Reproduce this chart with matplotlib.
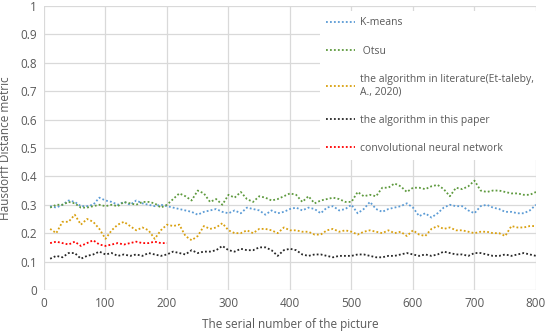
import numpy as np
import matplotlib.pyplot as plt

plt.rcParams['font.family'] = ['Open Sans', 'DejaVu Sans']

# serial number of picture (every 10th sample)
x = np.arange(10, 801, 10)
x_cnn = np.arange(10, 201, 10)

kmeans = [0.295, 0.29, 0.30, 0.315, 0.31, 0.295, 0.295, 0.30, 0.325, 0.315,
          0.31, 0.30, 0.31, 0.30, 0.315, 0.305, 0.30, 0.295, 0.30, 0.295,
          0.29, 0.285, 0.28, 0.275, 0.265, 0.275, 0.28, 0.285, 0.275, 0.27,
          0.28, 0.27, 0.29, 0.285, 0.28, 0.265, 0.28, 0.27, 0.275, 0.285,
          0.29, 0.28, 0.29, 0.285, 0.27, 0.29, 0.295, 0.28, 0.285, 0.30,
          0.27, 0.285, 0.31, 0.285, 0.275, 0.285, 0.29, 0.295, 0.305, 0.29,
          0.26, 0.27, 0.255, 0.27, 0.29, 0.30, 0.295, 0.295, 0.28, 0.27,
          0.295, 0.30, 0.29, 0.285, 0.275, 0.275, 0.27, 0.27, 0.28, 0.30]

otsu = [0.29, 0.30, 0.30, 0.31, 0.305, 0.29, 0.29, 0.295, 0.30, 0.295,
        0.30, 0.295, 0.31, 0.305, 0.30, 0.31, 0.31, 0.305, 0.29, 0.30,
        0.32, 0.34, 0.33, 0.315, 0.35, 0.34, 0.31, 0.32, 0.30, 0.335,
        0.325, 0.345, 0.32, 0.31, 0.33, 0.325, 0.315, 0.32, 0.33, 0.34,
        0.335, 0.31, 0.33, 0.305, 0.315, 0.32, 0.325, 0.32, 0.31, 0.31,
        0.345, 0.33, 0.335, 0.33, 0.36, 0.36, 0.375, 0.365, 0.345, 0.36,
        0.36, 0.355, 0.365, 0.37, 0.355, 0.33, 0.36, 0.355, 0.365, 0.385,
        0.35, 0.345, 0.35, 0.35, 0.345, 0.34, 0.34, 0.335, 0.335, 0.345]

literature = [0.215, 0.20, 0.24, 0.24, 0.265, 0.23, 0.25, 0.24, 0.215, 0.18,
              0.21, 0.23, 0.24, 0.225, 0.21, 0.22, 0.21, 0.18, 0.21, 0.23,
              0.225, 0.23, 0.19, 0.175, 0.19, 0.225, 0.215, 0.22, 0.235, 0.21,
              0.20, 0.20, 0.21, 0.20, 0.215, 0.215, 0.21, 0.20, 0.22, 0.21,
              0.21, 0.205, 0.205, 0.195, 0.195, 0.21, 0.215, 0.205, 0.21, 0.205,
              0.195, 0.205, 0.21, 0.205, 0.20, 0.21, 0.20, 0.205, 0.19, 0.21,
              0.195, 0.19, 0.215, 0.225, 0.215, 0.22, 0.21, 0.21, 0.205, 0.20,
              0.205, 0.205, 0.20, 0.20, 0.19, 0.225, 0.22, 0.22, 0.225, 0.225]

this_paper = [0.11, 0.12, 0.115, 0.13, 0.13, 0.11, 0.12, 0.125, 0.135, 0.125,
              0.13, 0.12, 0.125, 0.12, 0.125, 0.12, 0.13, 0.125, 0.12, 0.125,
              0.135, 0.13, 0.125, 0.14, 0.13, 0.135, 0.135, 0.14, 0.155, 0.14,
              0.135, 0.145, 0.14, 0.14, 0.15, 0.15, 0.14, 0.12, 0.14, 0.145,
              0.14, 0.125, 0.12, 0.125, 0.125, 0.12, 0.115, 0.12, 0.12, 0.12,
              0.125, 0.125, 0.12, 0.115, 0.115, 0.12, 0.12, 0.125, 0.13, 0.125,
              0.12, 0.125, 0.12, 0.125, 0.135, 0.13, 0.125, 0.125, 0.12, 0.13,
              0.13, 0.125, 0.12, 0.12, 0.125, 0.12, 0.125, 0.13, 0.125, 0.12]

cnn = [0.165, 0.17, 0.165, 0.16, 0.17, 0.155, 0.165, 0.175, 0.16, 0.155,
       0.16, 0.165, 0.16, 0.165, 0.17, 0.165, 0.165, 0.17, 0.165, 0.165]

fig = plt.figure(figsize=(5.5, 3.31), dpi=100)
ax = fig.add_axes([0.08, 0.124, 0.8945, 0.858])

ls = (0, (1, 1.2))
ax.plot(x, kmeans, color='#5B9BD5', ls=ls, lw=1.3, label='K-means')
ax.plot(x, otsu, color='#5E9A3E', ls=ls, lw=1.3, label=' Otsu')
ax.plot(x, literature, color='#D9A00F', ls=ls, lw=1.3,
        label='the algorithm in literature(Et-taleby,\nA., 2020)')
ax.plot(x, this_paper, color='#262626', ls=ls, lw=1.3, label='the algorithm in this paper')
ax.plot(x_cnn, cnn, color='#FF0000', ls=ls, lw=1.3, label='convolutional neural network')

ax.set_xlim(0, 800)
ax.set_ylim(0, 1)
ax.set_xticks(np.arange(0, 801, 100))
ax.set_yticks(np.arange(0, 1.01, 0.1))
ax.set_yticklabels(['0', '0.1', '0.2', '0.3', '0.4', '0.5', '0.6', '0.7', '0.8', '0.9', '1'])
ax.grid(True, color='#D9D9D9', lw=0.9)
ax.set_axisbelow(True)
for s in ax.spines.values():
    s.set_visible(False)
ax.tick_params(length=0, labelsize=8.5, colors='#595959', pad=5)
ax.set_xlabel('The serial number of the picture', fontsize=8.5, color='#595959', labelpad=6)
ax.set_ylabel('Hausdorff Distance metric', fontsize=8.5, color='#595959', labelpad=6)

leg = ax.legend(loc='upper left', bbox_to_anchor=(0.55, 1.0), fontsize=7.5,
                frameon=True, facecolor='white', edgecolor='none', framealpha=1,
                fancybox=False, handlelength=2.8, handletextpad=0.5,
                labelspacing=1.65, borderpad=0.6)
for t in leg.get_texts():
    t.set_color('#595959')

fig.savefig('out.png', dpi=100)
